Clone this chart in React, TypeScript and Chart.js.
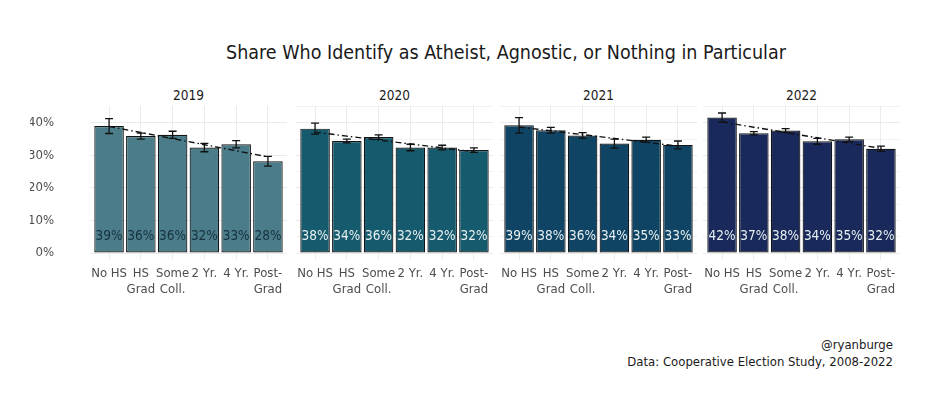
import React, { useEffect, useRef } from "react";
import { Chart, registerables } from "chart.js";

Chart.register(...registerables);

const TITLE = "Share Who Identify as Atheist, Agnostic, or Nothing in Particular";
const CAPTION_1 = "@ryanburge";
const CAPTION_2 = "Data: Cooperative Election Study, 2008-2022";

const categories: string[][] = [["No HS"], ["HS", "Grad"], ["Some", "Coll."], ["2 Yr."], ["4 Yr."], ["Post-", "Grad"]];
const years = ["2019", "2020", "2021", "2022"];

const share2019 = [39.0, 35.9, 36.3, 32.4, 33.4, 28.2];
const err2019 = [2.3, 0.9, 1.1, 1.3, 1.1, 1.5];
const share2020 = [38.2, 34.4, 35.6, 32.4, 32.4, 31.6];
const err2020 = [1.7, 0.6, 0.7, 1.0, 0.7, 0.7];
const share2021 = [39.2, 37.7, 36.1, 33.6, 34.8, 33.2];
const err2021 = [2.4, 0.9, 0.9, 1.4, 0.8, 1.2];
const share2022 = [41.6, 36.8, 37.6, 34.3, 34.9, 32.0];
const err2022 = [1.4, 0.5, 0.6, 0.9, 0.7, 0.8];

const yTicks = [0, 10, 20, 30, 40];

const barColors = ["#4a7d89", "#165a6d", "#0f4464", "#1a295b"];
const labelColors = ["#17323d", "#e6f0f2", "#e6f0f2", "#e6f0f2"];

const FONT = "'Liberation Sans Narrow', 'DejaVu Sans Condensed', 'Roboto Condensed', sans-serif";

const PANEL_LEFTS = [90, 296, 500, 703];
const PLOT_W = 197;
const PLOT_TOP = 106;
const PLOT_H = 154;
const X_AXIS_H = 44;
const Y_AXIS_W = 60;
const X_EXPAND = 0.6;

function linearFit(ys: number[]): number[] {
  const n = ys.length;
  const xs = ys.map((_, i) => i + 1);
  const mx = xs.reduce((a, b) => a + b, 0) / n;
  const my = ys.reduce((a, b) => a + b, 0) / n;
  let sxy = 0;
  let sxx = 0;
  for (let i = 0; i < n; i++) {
    sxy += (xs[i] - mx) * (ys[i] - my);
    sxx += (xs[i] - mx) * (xs[i] - mx);
  }
  const b = sxy / sxx;
  return xs.map((x) => my + b * (x - mx));
}

function Panel({ idx, values, errs }: { idx: number; values: number[]; errs: number[] }) {
  const ref = useRef<HTMLCanvasElement | null>(null);
  const first = idx === 0;
  const canvasLeft = first ? PANEL_LEFTS[idx] - Y_AXIS_W : PANEL_LEFTS[idx];
  const canvasW = first ? PLOT_W + Y_AXIS_W : PLOT_W;
  const canvasH = PLOT_H + X_AXIS_H;

  useEffect(() => {
    if (!ref.current) return;
    const errPlugin = {
      id: "errbars" + idx,
      afterDatasetsDraw(chart: any) {
        const ctx = chart.ctx;
        const xs = chart.scales.x;
        const ys = chart.scales.y;
        ctx.save();
        ctx.strokeStyle = "#111";
        ctx.lineWidth = 1.3;
        values.forEach((v, i) => {
          const x = xs.getPixelForValue(i);
          const y1 = ys.getPixelForValue(v - errs[i]);
          const y2 = ys.getPixelForValue(v + errs[i]);
          ctx.beginPath();
          ctx.moveTo(x, y1);
          ctx.lineTo(x, y2);
          ctx.moveTo(x - 4, y1);
          ctx.lineTo(x + 4, y1);
          ctx.moveTo(x - 4, y2);
          ctx.lineTo(x + 4, y2);
          ctx.stroke();
        });
        ctx.fillStyle = labelColors[idx];
        ctx.font = "13.5px " + FONT;
        ctx.textAlign = "center";
        ctx.textBaseline = "middle";
        values.forEach((v, i) => {
          const x = xs.getPixelForValue(i);
          const y = ys.getPixelForValue(5);
          ctx.fillText(Math.round(v) + "%", x, y);
        });
        ctx.restore();
      },
    };

    const chart = new Chart(ref.current, {
      type: "bar",
      data: {
        labels: categories as any,
        datasets: [
          {
            type: "line" as const,
            data: linearFit(values),
            borderColor: "#111",
            borderWidth: 1.4,
            borderDash: [6, 3, 1.5, 3],
            pointRadius: 0,
            fill: false,
            order: 0,
          } as any,
          {
            type: "bar" as const,
            data: values,
            backgroundColor: barColors[idx],
            borderColor: "#141414",
            borderWidth: 1.2,
            borderSkipped: false,
            barPercentage: 0.93,
            categoryPercentage: 1,
            order: 1,
          },
        ],
      },
      options: {
        animation: false,
        responsive: false,
        maintainAspectRatio: false,
        layout: { padding: 0 },
        plugins: { legend: { display: false }, tooltip: { enabled: false }, title: { display: false } },
        scales: {
          x: {
            offset: true,
            grid: { offset: false, color: "#ebebeb", lineWidth: 1, drawTicks: false },
            border: { display: false },
            afterBuildTicks: (s: any) => {
              s._startValue = -X_EXPAND;
              s._valueRange = categories.length - 1 + 2 * X_EXPAND;
            },
            ticks: {
              autoSkip: false,
              maxRotation: 0,
              minRotation: 0,
              padding: 5,
              color: "#4d4d4d",
              font: { family: FONT, size: 13, lineHeight: 1.25 },
            },
            afterFit: (s: any) => {
              s.height = X_AXIS_H;
              s.paddingLeft = 0;
              s.paddingRight = 0;
            },
          },
          y: {
            min: -2.15,
            max: 45.15,
            grid: {
              color: "#ebebeb",
              lineWidth: (c: any) => (c.tick && c.tick.value % 10 === 0 ? 1 : 0.6),
              drawTicks: first,
              tickLength: 34,
              tickColor: "rgba(0,0,0,0)",
            },
            border: { display: false },
            afterBuildTicks: (s: any) => {
              const t: any[] = [];
              for (let v = 0; v <= 45; v += 5) t.push({ value: v });
              s.ticks = t;
            },
            ticks: {
              display: first,
              padding: 2,
              color: "#4d4d4d",
              font: { family: FONT, size: 13 },
              callback: (v: any) => (yTicks.includes(Number(v)) ? v + "%" : ""),
            },
            afterFit: (s: any) => {
              s.width = first ? Y_AXIS_W : 0;
              s.paddingTop = 0;
              s.paddingBottom = 0;
            },
          },
        },
      },
      plugins: [errPlugin],
    });
    return () => chart.destroy();
  }, [idx]);

  return (
    <>
      <div
        style={{
          position: "absolute",
          left: PANEL_LEFTS[idx],
          width: PLOT_W,
          top: 87,
          lineHeight: "16px",
          textAlign: "center",
          fontFamily: FONT,
          fontSize: 13.5,
          color: "#1a1a1a",
        }}
      >
        {years[idx]}
      </div>
      <canvas
        ref={ref}
        width={canvasW}
        height={canvasH}
        style={{ position: "absolute", left: canvasLeft, top: PLOT_TOP, width: canvasW, height: canvasH }}
      />
    </>
  );
}

export default function App() {
  const shares = [share2019, share2020, share2021, share2022];
  const errs = [err2019, err2020, err2021, err2022];
  return (
    <div style={{ position: "absolute", left: 0, top: 0, width: 948, height: 397, background: "#fff", overflow: "hidden" }}>
      <div
        style={{
          position: "absolute",
          left: 156,
          width: 700,
          top: 40,
          lineHeight: "26px",
          textAlign: "center",
          fontFamily: FONT,
          fontSize: 19.5,
          color: "#1a1a1a",
        }}
      >
        {TITLE}
      </div>
      {years.map((y, i) => (
        <Panel key={y} idx={i} values={shares[i]} errs={errs[i]} />
      ))}
      <div
        style={{
          position: "absolute",
          right: 55,
          top: 337,
          lineHeight: "16.5px",
          textAlign: "right",
          fontFamily: FONT,
          fontSize: 13,
          color: "#1a1a1a",
        }}
      >
        <div>{CAPTION_1}</div>
        <div>{CAPTION_2}</div>
      </div>
    </div>
  );
}
